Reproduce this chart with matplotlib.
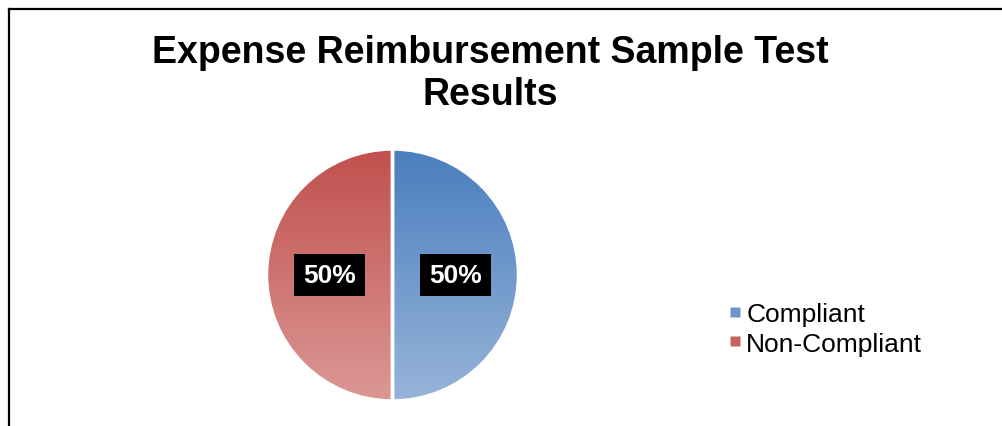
import numpy as np
import matplotlib
matplotlib.use("Agg")
from matplotlib import pyplot as plt
from matplotlib.lines import Line2D
from matplotlib.colors import LinearSegmentedColormap

plt.rcParams['font.family'] = ['Liberation Sans', 'DejaVu Sans']

# data
categories = ['Compliant', 'Non-Compliant']
values = [50, 50]
title = 'Expense Reimbursement Sample Test\nResults'

# gradient colours (top -> bottom) per slice
grad_top = ['#4A7EBE', '#C0504D']
grad_bot = ['#97B4D9', '#DC9896']
legend_cols = ['#6E95C9', '#C9625F']

W, H = 1002, 427
fig = plt.figure(figsize=(W / 100, H / 100), dpi=100)

# pie axes: centre (392.5, 276) px from top-left, radius 126 px
cx, cy, r = 392.5, H - 276, 126
ax = fig.add_axes([(cx - r) / W, (cy - r) / H, 2 * r / W, 2 * r / H])

wedges, texts, autotexts = ax.pie(values, startangle=90, counterclock=False,
                                  autopct='%1.0f%%', pctdistance=0.5,
                                  wedgeprops=dict(edgecolor='white', linewidth=2.5),
                                  textprops=dict(color='white', fontsize=19, fontweight='bold'))
ax.set_xlim(-1, 1)
ax.set_ylim(-1, 1)
ax.set_aspect('equal')

grad = np.linspace(0, 1, 256).reshape(-1, 1)
for i, w in enumerate(wedges):
    w.set_facecolor('none')
    cmap = LinearSegmentedColormap.from_list('g%d' % i, [grad_top[i], grad_bot[i]])
    im = ax.imshow(grad, cmap=cmap, extent=(-1, 1, -1, 1), origin='upper',
                   aspect='auto', zorder=0.5)
    im.set_clip_path(w)
    w.set_zorder(1)

for t in autotexts:
    t.set_zorder(3)
    t.set_bbox(dict(facecolor='black', edgecolor='none', boxstyle='square,pad=0.33'))

# legend
handles = [Line2D([], [], marker='s', linestyle='none', markersize=6.5,
                  markerfacecolor=legend_cols[i], markeredgecolor='none')
           for i in range(len(categories))]
fig.legend(handles, categories, loc='center left', bbox_to_anchor=(726 / W, 1 - 330 / H),
           frameon=False, fontsize=19, handletextpad=0.12, labelspacing=0.2,
           handlelength=0.65, borderpad=0, borderaxespad=0)

# title
fig.text(490 / W, 1 - 74 / H, title, ha='center', va='center',
         fontsize=27, fontweight='bold', linespacing=1.2)

# chart border (left and top edges visible)
bx, by = 8.5 / W, 1 - 9.5 / H
fig.add_artist(Line2D([bx, bx], [0, by], color='black', linewidth=1.6, transform=fig.transFigure))
fig.add_artist(Line2D([bx, 1], [by, by], color='black', linewidth=1.6, transform=fig.transFigure))

fig.savefig('out.png', dpi=100)
